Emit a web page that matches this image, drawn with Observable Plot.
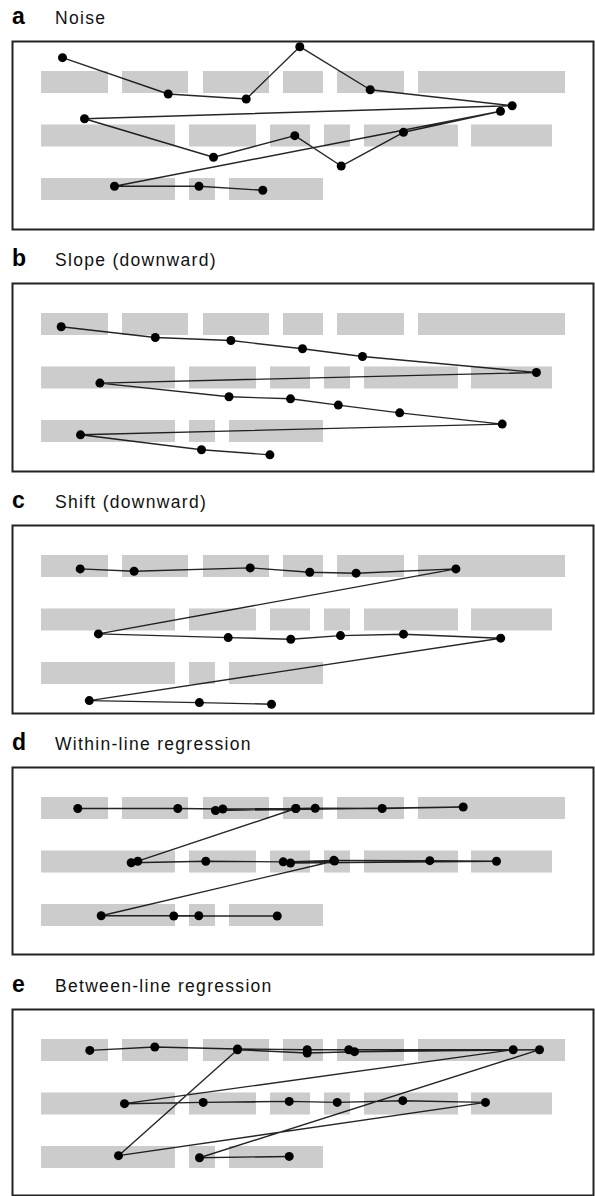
<!DOCTYPE html>
<html>
<head>
<meta charset="utf-8">
<script src="https://cdn.jsdelivr.net/npm/d3@7"></script>
<script src="https://cdn.jsdelivr.net/npm/@observablehq/plot@0.6"></script>
<style>
  html, body { margin: 0; padding: 0; background: #fff; }
  body { width: 595px; height: 1196px; position: relative; overflow: hidden; font-family: "Liberation Sans", Arial, sans-serif; }
  .title { position: absolute; left: 12px; font-size: 23px; line-height: 23px; color: #000; white-space: nowrap; }
  .title b { display: inline-block; width: 43px; font-weight: bold; }
  .title span { font-size: 17.5px; letter-spacing: 1.3px; color: #111; }
  .panel { position: absolute; left: 0; }
</style>
</head>
<body>
<script>
// ---- Panel labels ----
const panelLetters = ["a", "b", "c", "d", "e"];
const panelTitles = ["Noise", "Slope (downward)", "Shift (downward)", "Within-line regression", "Between-line regression"];

// ---- Word boxes (text line index, horizontal extent in stimulus units) ----
const wordRows   = [0, 0, 0, 0, 0, 0, 1, 1, 1, 1, 1, 1, 2, 2, 2];
const wordStarts = [29, 110, 191, 271, 325, 406, 29, 177, 258, 312, 352, 459, 29, 177, 217];
const wordEnds   = [96, 176, 257, 311, 392, 553, 163, 244, 298, 338, 446, 540, 163, 203, 311];

// ---- Fixation sequences (x in stimulus units, y in text-line units) ----
const noiseX = [50, 155.7, 233.7, 287.3, 357.7, 499.7, 72, 201, 282.3, 328.7, 391, 488, 102, 186.5, 250.3];
const noiseY = [-0.464, 0.215, 0.308, -0.669, 0.135, 0.434, 0.677, 1.398, 0.994, 1.561, 0.931, 0.538, 1.940, 1.940, 2.015];

const slopeX = [48.7, 142.8, 218.4, 290, 350, 523.9, 87.4, 216.5, 278, 325.8, 387.2, 489.7, 68, 189, 257.4];
const slopeY = [0.043, 0.243, 0.299, 0.454, 0.598, 0.897, 1.095, 1.351, 1.389, 1.507, 1.651, 1.862, 2.062, 2.342, 2.436];

const shiftX = [67.7, 121.6, 237.7, 297.3, 343.6, 443.4, 85.9, 215.7, 278.3, 328, 391, 488.2, 76.8, 186.9, 259];
const shiftY = [0.045, 0.088, 0.026, 0.107, 0.125, 0.045, 1.260, 1.329, 1.359, 1.292, 1.265, 1.340, 2.507, 2.544, 2.574];

const withinX = [65.3, 165.3, 210.3, 283.3, 302.7, 369.7, 450.7, 203, 283.3, 125.3, 118.7, 193.3, 270.7, 321.3, 417.3, 484, 278, 322, 88.7, 186.3, 161.3, 264.7];
const withinY = [0, 0, 0.009, 0, -0.004, 0, -0.028, 0.037, 0, 0.985, 1.015, 0.985, 0.997, 0.969, 0.975, 0.985, 1.019, 0.981, 2.004, 2.004, 2.009, 2.009];

const betweenX = [77.3, 142.3, 225, 294.7, 336.3, 500.7, 112, 190.7, 276.7, 324.7, 390.3, 473, 106, 225, 294.7, 342, 527, 187, 276.7];
const betweenY = [-0.002, -0.065, -0.028, -0.015, -0.015, -0.015, 0.994, 0.970, 0.951, 0.970, 0.938, 0.970, 1.966, -0.015, 0.047, 0.022, -0.015, 2.004, 1.980];

const seriesX = [noiseX, slopeX, shiftX, withinX, betweenX];
const seriesY = [noiseY, slopeY, shiftY, withinY, betweenY];

// ---- Layout ----
const W = 595;
const boxTops = [41, 283, 525, 767, 1008.5];
const boxHeights = [188, 188, 188, 187, 186];
const LINE_PX = 53.5;   // pixels per text line
const ROW0_PX = 41;     // first line centre below box top
const XMAX = 581;       // stimulus width
const BAR_HALF = 0.206; // half word-box height, in line units

const words = wordRows.map((r, i) => ({row: r, x1: wordStarts[i], x2: wordEnds[i]}));

panelLetters.forEach((letter, i) => {
  const boxTop = boxTops[i];
  const boxH = boxHeights[i];

  const t = document.createElement("div");
  t.className = "title";
  t.style.top = (boxTop - 16.5 - 19.5) + "px";
  t.innerHTML = `<b>${letter}</b><span>${panelTitles[i]}</span>`;
  document.body.appendChild(t);

  const fix = seriesX[i].map((x, k) => ({x, y: seriesY[i][k]}));

  const chart = Plot.plot({
    width: W,
    height: boxH + 2,
    marginLeft: 12,
    marginRight: 2,
    marginTop: 1,
    marginBottom: 1,
    style: {background: "transparent", overflow: "visible"},
    x: {domain: [0, XMAX], axis: null},
    y: {domain: [-ROW0_PX / LINE_PX, (boxH - ROW0_PX) / LINE_PX], reverse: true, axis: null},
    marks: [
      Plot.rect(words, {x1: "x1", x2: "x2", y1: d => d.row - BAR_HALF, y2: d => d.row + BAR_HALF, fill: "#cccccc"}),
      Plot.line(fix, {x: "x", y: "y", stroke: "#000", strokeWidth: 1.4, strokeOpacity: 0.85}),
      Plot.dot(fix, {x: "x", y: "y", r: 4.5, fill: "#000", stroke: "none"}),
      Plot.frame({stroke: "#222", strokeWidth: 2})
    ]
  });
  const holder = document.createElement("div");
  holder.className = "panel";
  holder.style.top = (boxTop - 1) + "px";
  holder.appendChild(chart);
  document.body.appendChild(holder);
});
</script>
</body>
</html>
